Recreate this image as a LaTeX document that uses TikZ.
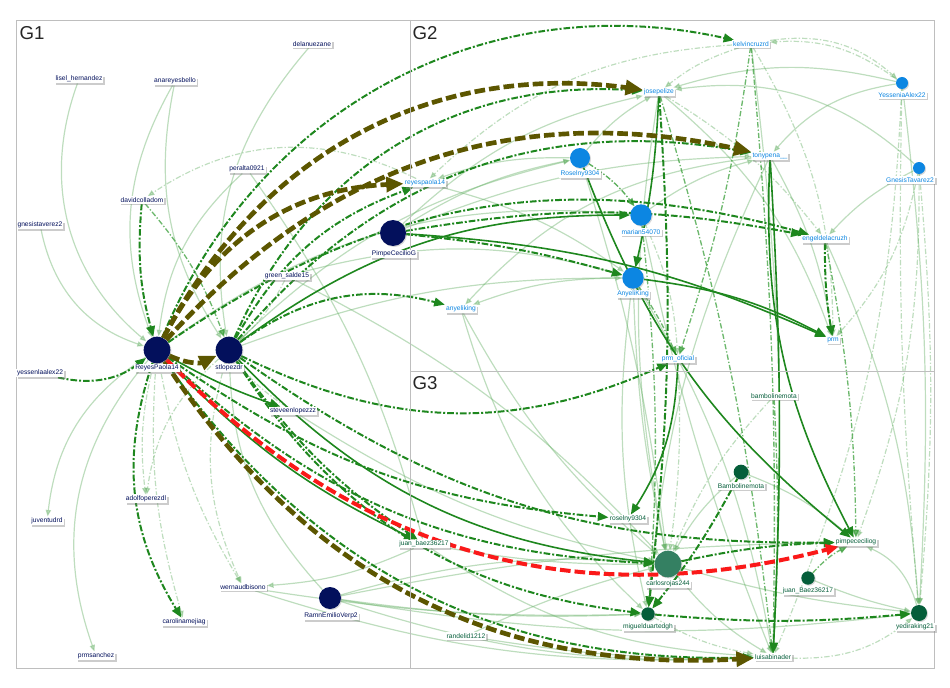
\documentclass[tikz,border=0pt]{standalone}
\usepackage{fontspec}
\newfontfamily\lf{Liberation Sans}
\usetikzlibrary{arrows.meta,shadows}
\pgfdeclarelayer{edges}
\pgfsetlayers{edges,main}
\definecolor{navy1}{RGB}{3,16,92}
\definecolor{blue1}{RGB}{12,134,226}
\definecolor{grn1}{RGB}{5,94,58}
\definecolor{carl}{RGB}{52,128,98}
\definecolor{ltg}{RGB}{100,175,100}
\definecolor{midg}{RGB}{60,160,60}
\definecolor{dkg}{RGB}{30,135,30}
\definecolor{olv}{RGB}{92,86,0}
\definecolor{red1}{RGB}{250,25,25}
\definecolor{panelc}{RGB}{190,190,190}
\tikzset{
 lab/.style={fill=white, inner sep=0.8pt, font=\lf\fontsize{5}{5.5}\selectfont, drop shadow={shadow xshift=1.2pt, shadow yshift=-1.4pt, opacity=0.4}},
 l1/.style={lab, text=navy1},
 l2/.style={lab, text=blue1},
 l3/.style={lab, text=grn1},
 vsh/.style={drop shadow={shadow xshift=0.8pt, shadow yshift=-0.8pt, opacity=0.3}},
 v1/.style={circle, fill=navy1, inner sep=0pt, vsh},
 v2/.style={circle, fill=blue1, inner sep=0pt, vsh},
 v3/.style={circle, fill=grn1, inner sep=0pt, vsh},
 glab/.style={font=\lf\fontsize{14}{16}\selectfont, text=black!85, inner sep=0pt},
 panel/.style={draw=panelc, line width=0.7pt},
 lt/.style={draw=ltg, line width=0.9pt, opacity=0.42, -{Triangle[length=5pt,width=4pt]}},
 ltd/.style={lt, dash pattern=on 4pt off 1.5pt on 1pt off 1.5pt},
 gm/.style={draw=midg, line width=1pt, opacity=0.75, dash pattern=on 4pt off 1.5pt on 1pt off 1.5pt, -{Triangle[length=6pt,width=5pt]}},
 gd/.style={draw=dkg, line width=1.5pt, dash pattern=on 5pt off 1.5pt on 1.5pt off 1.5pt, -{Triangle[length=8pt,width=6.5pt]}},
 gs/.style={draw=dkg, line width=1.2pt, -{Triangle[length=8pt,width=6.5pt]}},
 ol/.style={draw=olv, line width=3.5pt, dash pattern=on 8pt off 3pt, -{Triangle[length=13pt,width=11pt]}},
 rd/.style={draw=red1, line width=3pt, dash pattern=on 8pt off 3pt, -{Triangle[length=10pt,width=8pt]}},
}
\begin{document}
\begin{tikzpicture}[x=0.75pt,y=-0.75pt]
\useasboundingbox (0,0) rectangle (950,688);
\draw[panel] (16,20) rectangle (934,668);
\draw[panel] (410,20) -- (410,668);
\draw[panel] (410,371) -- (934,371);
\node[glab] (g1) at (32,33) {G1};
\node[glab] (g2) at (425,33) {G2};
\node[glab] (g3) at (425,383) {G3};
% ---------- G1 ----------
\node[l1] (dela) at (312,44) {delanuezane};
\node[l1] (lisel) at (79,79) {lisel\_hernandez};
\node[l1] (anare) at (175,81) {anareyesbello};
\node[l1] (peralta) at (247,169) {peralta0921};
\node[l1] (david) at (142,200) {davidcolladom};
\node[l1] (gnesis1) at (40,225) {gnesistaverez2};
\node[l1] (green) at (287,276) {green\_salde15};
\node[v1, minimum size=19.5pt] (pimpeG) at (393,233) {};
\node[l1] (pimpeG-l) at (394,254) {PimpeCecilioG};
\node[v1, minimum size=20pt] (reyes) at (157,350) {};
\node[l1] (reyes-l) at (157,368) {ReyesPaola14};
\node[v1, minimum size=20pt] (stlo) at (229,350) {};
\node[l1] (stlo-l) at (229,368) {stlopezdr};
\node[l1] (yess1) at (40,373) {yessenlaalex22};
\node[l1] (steve) at (293,411) {steveenlopezzz};
\node[l1] (adolfo) at (146,499) {adolfoperezdl};
\node[l1] (juvent) at (47,521) {juventudrd};
\node[l3] (juanb1) at (424,544) {juan\_baez36217};
\node[l1] (wern) at (243,587) {wernaudbisono};
\node[v1, minimum size=16.5pt] (ramn) at (330,598) {};
\node[l1] (ramn-l) at (331,616) {RamnEmilioVerp2};
\node[l1] (carol) at (184,622) {carolinamejiag};
\node[l1] (prms) at (96,656) {prmsanchez};
\node[l3] (randel) at (466,636) {randelid1212};
% ---------- G2 ----------
\node[l2] (kelvin) at (751,44) {kelvincruzrd};
\node[l2] (jose) at (659,92) {josepelize};
\node[v2, minimum size=9pt] (yessA) at (902,83) {};
\node[l2] (yessA-l) at (902,95) {YesseniaAlex22};
\node[l2] (tony) at (770,156) {tonypena\_\_};
\node[v2, minimum size=15pt] (rosel) at (580,158) {};
\node[l2] (rosel-l) at (580,174) {Roselny9304};
\node[l2] (reyesp) at (425,183) {reyespaola14};
\node[v2, minimum size=9pt] (gnesisT) at (919,168) {};
\node[l2] (gnesisT-l) at (910,180) {GnesisTavarez2};
\node[v2, minimum size=16pt] (marian) at (641,215) {};
\node[l2] (marian-l) at (641,232) {marian54070};
\node[l2] (engel) at (825,239) {engeldelacruzh};
\node[v2, minimum size=16pt] (anyK) at (633,278) {};
\node[l2] (anyK-l) at (633,294) {AnyeliKing};
\node[l2] (anyk) at (461,309) {anyeliking};
\node[l2] (prm) at (833,340) {prm};
\node[l2] (prmof) at (678,359) {prm\_oficial};
% ---------- G3 ----------
\node[l3] (bambo) at (774,396) {bambolinemota};
\node[v3, minimum size=11pt] (Bambo) at (741,472) {};
\node[l3] (Bambo-l) at (741,486) {Bambolinemota};
\node[l3] (rosel3) at (628,519) {roselny9304};
\node[l3] (pimpe3) at (856,542) {pimpececiliog};
\node[circle, fill=carl, inner sep=0pt, minimum size=20pt, vsh] (carlos) at (668,564) {};
\node[l3] (carlos-l) at (668,584) {carlosrojas244};
\node[v3, minimum size=10pt] (juanB3) at (808,578) {};
\node[l3] (juanB3-l) at (808,591) {juan\_Baez36217};
\node[v3, minimum size=10pt] (miguel) at (648,614) {};
\node[l3] (miguel-l) at (648,627) {miguelduartedgh};
\node[v3, minimum size=12pt] (yedira) at (919,613) {};
\node[l3] (yedira-l) at (915,627) {yediraking21};
\node[l3] (luisa) at (773,657) {luisabinader};
\begin{pgfonlayer}{edges}
% light edges G1
\draw[lt] (lisel) to[bend right=35] (reyes);
\draw[lt] (anare) to[bend right=25] (reyes);
\draw[lt] (anare) to[bend right=22] (stlo);
\draw[lt] (dela) to[bend right=25] (stlo);
\draw[lt] (peralta) to[bend right=20] (reyes);
\draw[lt] (gnesis1) to[bend right=30] (reyes);
\draw[ltd] (reyesp) to[bend right=30] (david);
\draw[lt] (reyes) to[bend right=25] (juvent);
\draw[lt] (reyes) to[bend right=30] (prms);
\draw[ltd] (reyes) to[bend right=10] (adolfo);
\draw[ltd] (stlo) to[bend right=20] (adolfo);
\draw[ltd] (reyes) to[bend right=10] (carol);
\draw[ltd] (reyes) to[bend right=10] (wern);
\draw[ltd] (stlo) to[bend right=20] (wern);
\draw[lt] (ramn) to[bend left=20] (stlo);
\draw[lt] (ramn) to[bend left=10] (carlos);
\draw[lt] (ramn) to[bend right=10] (luisa);
\draw[lt] (ramn) to[bend right=5] (miguel);
\draw[lt] (ramn) to[bend right=8] (yedira);
\draw[lt] (ramn) to[bend left=5] (pimpe3);
\draw[lt] (wern) to[bend right=10] (luisa);
\draw[lt] (wern) to[bend right=5] (miguel);
\draw[lt] (juanb1) to[bend left=10] (wern);
\draw[ltd] (green) to[bend left=10] (stlo);
\draw[lt] (green) to[bend left=10] (carlos);
\draw[ltd] (steve) to[bend left=10] (stlo);
\draw[lt] (steve) to[bend right=10] (carlos);
\draw[lt] (peralta) to[bend left=10] (juanb1);
\draw[lt] (stlo) to[bend left=15] (rosel);
\draw[lt] (reyes) to[bend left=20] (marian);
\draw[lt] (pimpeG) to[bend left=10] (rosel);
\draw[lt] (pimpeG) to[bend left=15] (jose);
\draw[lt] (pimpeG) to[bend left=10] (tony);
\draw[lt] (stlo) to[bend left=10] (anyK);
\draw[lt] (green) to[bend left=15] (anyK);
\draw[lt] (juanb1) to[bend right=5] (carlos);
\draw[lt] (juanb1) to[bend right=15] (luisa);
\draw[lt] (randel) to[bend right=5] (luisa);
\draw[lt] (randel) to[bend left=5] (carlos);
\draw[lt] (anyk) to[bend right=10] (carlos);
\draw[lt] (anyk) to[bend right=15] (miguel);
\draw[lt] (reyesp) to[bend left=10] (anyK);
% light edges G2/G3
\draw[ltd] (yessA) to[bend right=20] (kelvin);
\draw[ltd] (kelvin) to[bend left=25] (yessA);
\draw[lt] (yessA) to[bend right=15] (jose);
\draw[lt] (yessA) to[bend right=20] (tony);
\draw[ltd] (yessA) to[bend left=10] (luisa);
\draw[lt] (yessA) to[bend left=5] (yedira);
\draw[ltd] (yessA) to[bend right=3] (yedira);
\draw[ltd] (gnesisT) to[bend left=5] (yedira);
\draw[lt] (gnesisT) to[bend right=10] (engel);
\draw[ltd] (gnesisT) to[bend left=15] (prm);
\draw[lt] (gnesisT) to[bend right=25] (jose);
\draw[ltd] (gnesisT) to[bend left=10] (pimpe3);
\draw[ltd] (rosel) to[bend left=10] (marian);
\draw[lt] (rosel) to[bend right=10] (reyesp);
\draw[lt] (rosel) to[bend left=10] (jose);
\draw[lt] (marian) to[bend left=10] (tony);
\draw[ltd] (marian) to[bend left=10] (prmof);
\draw[lt] (anyK) to[bend right=10] (anyk);
\draw[lt] (anyK) to[bend left=10] (luisa);
\draw[lt] (anyK) to[bend right=5] (carlos);
\draw[lt] (anyK) to[bend right=10] (miguel);
\draw[ltd] (prmof) to[bend left=5] (carlos);
\draw[ltd] (kelvin) to[bend right=10] (jose);
\draw[ltd] (kelvin) to[bend right=20] (reyesp);
\draw[ltd] (kelvin) to[bend left=15] (prm);
\draw[lt] (kelvin) to[bend left=5] (luisa);
\draw[lt] (jose) to[bend left=15] (prm);
\draw[ltd] (jose) to[bend left=10] (engel);
\draw[lt] (tony) to[bend left=10] (prm);
\draw[lt] (tony) to[bend right=20] (anyk);
\draw[lt] (engel) to[bend left=10] (yedira);
\draw[ltd] (bambo) to[bend right=10] (carlos);
\draw[lt] (Bambo) to[bend right=10] (carlos);
\draw[lt] (Bambo) to[bend left=10] (pimpe3);
\draw[lt] (juanB3) to[bend right=5] (yedira);
\draw[lt] (carlos) to[bend right=5] (yedira);
\draw[lt] (carlos) to[bend right=10] (luisa);
\draw[ltd] (miguel) to[bend right=10] (luisa);
\draw[lt] (yedira) to[bend right=25] (pimpe3);
\draw[ltd] (luisa) to[bend right=20] (yedira);
\draw[lt] (rosel) to[bend left=5] (carlos);
\draw[lt] (marian) to[bend right=5] (luisa);
\draw[lt] (jose) to[bend right=10] (carlos);
\draw[lt] (tony) to[bend right=10] (miguel);
% medium green
\draw[gm] (kelvin) to[bend left=3] (luisa);
\draw[gm] (bambo) to[bend left=3] (luisa);
\draw[gm] (jose) to[bend left=5] (luisa);
\draw[gm] (anyK) to[bend left=5] (prmof);
\draw[gm] (rosel) to[bend left=10] (marian);
\draw[gm] (david) to[bend left=10] (stlo);
\draw[gm] (kelvin) to[bend left=5] (prmof);
\draw[gm] (engel) to[bend left=5] (pimpe3);
\draw[gm] (marian) to[bend left=5] (miguel);
\draw[gm] (juanB3) to[bend left=10] (pimpe3);
% dark green
\draw[gd] (reyes) to[bend left=40] (kelvin);
\draw[gd] (stlo) to[bend left=35] (jose);
\draw[gd] (stlo) to[bend left=30] (tony);
\draw[gd] (reyes) to[bend left=25] (engel);
\draw[gd] (stlo) to[bend left=20] (reyesp);
\draw[gd] (stlo) to[bend left=25] (anyk);
\draw[gs] (stlo) to[bend left=18] (marian);
\draw[gd] (pimpeG) to[bend left=10] (engel);
\draw[gd] (pimpeG) to[bend left=5] (anyK);
\draw[gs] (pimpeG) to[bend left=10] (prm);
\draw[gs] (anyK) to[bend left=10] (prm);
\draw[gs] (tony) to[bend right=15] (pimpe3);
\draw[gs] (rosel) to[bend right=15] (pimpe3);
\draw[gs] (tony) to[bend left=3] (luisa);
\draw[gd] (stlo) to[bend right=25] (prmof);
\draw[gd] (reyes) to[bend right=20] (carlos);
\draw[gs] (stlo) to[bend right=20] (carlos);
\draw[gd] (reyes) to[bend right=28] (luisa);
\draw[gd] (stlo) to[bend right=18] (pimpe3);
\draw[gd] (reyes) to[bend right=15] (rosel3);
\draw[gd] (stlo) to[bend right=25] (miguel);
\draw[gd] (miguel) to[bend right=5] (yedira);
\draw[gs] (reyes) to[bend right=10] (juanb1);
\draw[gd] (stlo) to[bend right=10] (juanb1);
\draw[gs] (reyes) to[bend right=5] (steve);
\draw[gs] (prmof) to[bend left=15] (rosel3);
\draw[gd] (Bambo) to[bend left=5] (miguel);
\draw[gd] (jose) to[bend left=5] (miguel);
\draw[gd] (engel) to[bend right=5] (prm);
\draw[gd] (carlos) to[bend left=5] (pimpe3);
\draw[gs] (jose) to[bend left=5] (anyK);
\draw[gd] (david) to[bend right=10] (reyes);
\draw[gd] (yess1) to[bend right=25] (reyes);
\draw[gd] (reyes) to[bend right=25] (carol);
% olive and red
\draw[ol] (reyes) to[bend right=25] (stlo);
\draw[ol] (reyes) to[bend left=35] (jose);
\draw[ol] (reyes) to[bend left=30] (tony);
\draw[ol] (reyes) to[bend left=30] (reyesp);
\draw[ol] (reyes) to[bend right=30] (luisa);
\draw[rd] (reyes) to[bend right=30] (pimpe3);
\end{pgfonlayer}
\end{tikzpicture}
\end{document}
